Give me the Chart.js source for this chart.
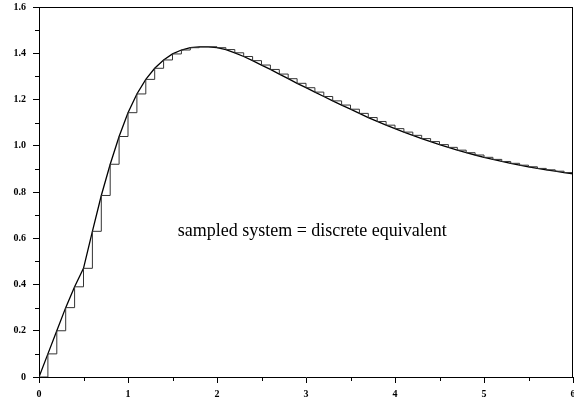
<!DOCTYPE html>
<html>
<head>
<meta charset="utf-8">
<script src="https://cdn.jsdelivr.net/npm/chart.js@4/dist/chart.umd.min.js"></script>
<style>
html,body{margin:0;padding:0;background:#fff;}
#wrap{position:relative;width:574px;height:404px;}
</style>
</head>
<body>
<div id="wrap"><canvas id="c" width="574" height="404"></canvas></div>
<script>
// sample instants (s)
const times = [0.0,0.1,0.2,0.3,0.4,0.5,0.6,0.7,0.8,0.9,
  1.0,1.1,1.2,1.3,1.4,1.5,1.6,1.7,1.8,1.9,
  2.0,2.1,2.2,2.3,2.4,2.5,2.6,2.7,2.8,2.9,
  3.0,3.1,3.2,3.3,3.4,3.5,3.6,3.7,3.8,3.9,
  4.0,4.1,4.2,4.3,4.4,4.5,4.6,4.7,4.8,4.9,
  5.0,5.1,5.2,5.3,5.4,5.5,5.6,5.7,5.8,5.9,6.0];
// continuous system response at those instants
const continuousResponse = [0.000,0.100,0.200,0.300,0.390,0.470,0.630,0.785,0.920,1.040,
  1.143,1.224,1.287,1.335,1.371,1.397,1.414,1.424,1.428,1.428,
  1.424,1.416,1.402,1.386,1.368,1.349,1.330,1.310,1.290,1.270,
  1.251,1.232,1.213,1.194,1.176,1.158,1.140,1.122,1.105,1.089,
  1.074,1.059,1.045,1.031,1.018,1.005,0.993,0.981,0.970,0.960,
  0.950,0.941,0.932,0.924,0.916,0.909,0.902,0.896,0.890,0.884,0.878];
// sampled (zero-order hold) output = discrete equivalent
const sampledOutput = [0.000,0.100,0.200,0.300,0.390,0.470,0.630,0.785,0.920,1.040,
  1.143,1.224,1.287,1.335,1.371,1.397,1.414,1.424,1.428,1.428,
  1.424,1.416,1.402,1.386,1.368,1.349,1.330,1.310,1.290,1.270,
  1.251,1.232,1.213,1.194,1.176,1.158,1.140,1.122,1.105,1.089,
  1.074,1.059,1.045,1.031,1.018,1.005,0.993,0.981,0.970,0.960,
  0.950,0.941,0.932,0.924,0.916,0.909,0.902,0.896,0.890,0.884,0.878];
const xTickLabels = ['0','1','2','3','4','5','6'];
const yTickLabels = ['0','0.2','0.4','0.6','0.8','1.0','1.2','1.4','1.6'];
const xMinorTicks = [0.5,1.5,2.5,3.5,4.5,5.5];
const yMinorTicks = [0.1,0.3,0.5,0.7,0.9,1.1,1.3,1.5];
const annotationText = 'sampled system = discrete equivalent';
const annotationPos = {x: 3.07, y: 0.63};

const tickFont = {family: "'Liberation Serif', 'DejaVu Serif', serif", size: 10, weight: 'bold'};

const frame = {
  id: 'frame',
  afterDraw(chart) {
    const ctx = chart.ctx, a = chart.chartArea;
    const xs = chart.scales.x, ys = chart.scales.y;
    ctx.save();
    ctx.strokeStyle = '#000';
    ctx.lineWidth = 1;
    ctx.beginPath();
    ctx.moveTo(a.left, a.top + 0.5);
    ctx.lineTo(a.right, a.top + 0.5);
    ctx.moveTo(a.right - 0.5, a.top);
    ctx.lineTo(a.right - 0.5, a.bottom);
    xMinorTicks.forEach(v => {
      const px = Math.round(xs.getPixelForValue(v)) + 0.5;
      ctx.moveTo(px, a.bottom); ctx.lineTo(px, a.bottom + 4);
    });
    yMinorTicks.forEach(v => {
      const py = Math.round(ys.getPixelForValue(v)) + 0.5;
      ctx.moveTo(a.left, py); ctx.lineTo(a.left - 4, py);
    });
    ctx.stroke();
    ctx.fillStyle = '#000';
    ctx.font = "18px 'Liberation Serif', 'DejaVu Serif', serif";
    ctx.textAlign = 'center';
    ctx.textBaseline = 'middle';
    ctx.fillText(annotationText, xs.getPixelForValue(annotationPos.x), ys.getPixelForValue(annotationPos.y));
    ctx.restore();
  }
};

new Chart(document.getElementById('c'), {
  type: 'line',
  data: {
    datasets: [
      {
        label: 'sampled',
        data: times.map((t, i) => ({x: t, y: sampledOutput[i]})),
        borderColor: '#333',
        borderWidth: 1,
        pointRadius: 0,
        stepped: 'before',
        fill: false
      },
      {
        label: 'continuous',
        data: times.map((t, i) => ({x: t, y: continuousResponse[i]})),
        borderColor: '#000',
        borderWidth: 1.3,
        pointRadius: 0,
        tension: 0,
        fill: false
      }
    ]
  },
  options: {
    responsive: false,
    animation: false,
    devicePixelRatio: 1,
    layout: {padding: {top: 7, right: 1, left: 0, bottom: 0}},
    plugins: {legend: {display: false}, tooltip: {enabled: false}, title: {display: false}},
    scales: {
      x: {
        type: 'linear', min: 0, max: 6,
        border: {display: true, color: '#000', width: 1},
        grid: {display: true, drawOnChartArea: false, drawTicks: true, tickLength: 6, color: '#000', tickColor: '#000'},
        ticks: {stepSize: 1, color: '#000', font: tickFont, padding: 5, maxRotation: 0,
          callback: (v) => xTickLabels[Math.round(v)] ?? ''},
        afterFit(s) { s.height = 27; s.paddingLeft = 0; s.paddingRight = 0; }
      },
      y: {
        type: 'linear', min: 0, max: 1.6,
        border: {display: true, color: '#000', width: 1},
        grid: {display: true, drawOnChartArea: false, drawTicks: true, tickLength: 6, color: '#000', tickColor: '#000'},
        ticks: {stepSize: 0.2, color: '#000', font: tickFont, padding: 7,
          callback: (v) => yTickLabels[Math.round(v / 0.2)] ?? ''},
        afterFit(s) { s.width = 39; s.paddingTop = 0; s.paddingBottom = 0; }
      }
    }
  },
  plugins: [frame]
});
</script>
</body>
</html>
